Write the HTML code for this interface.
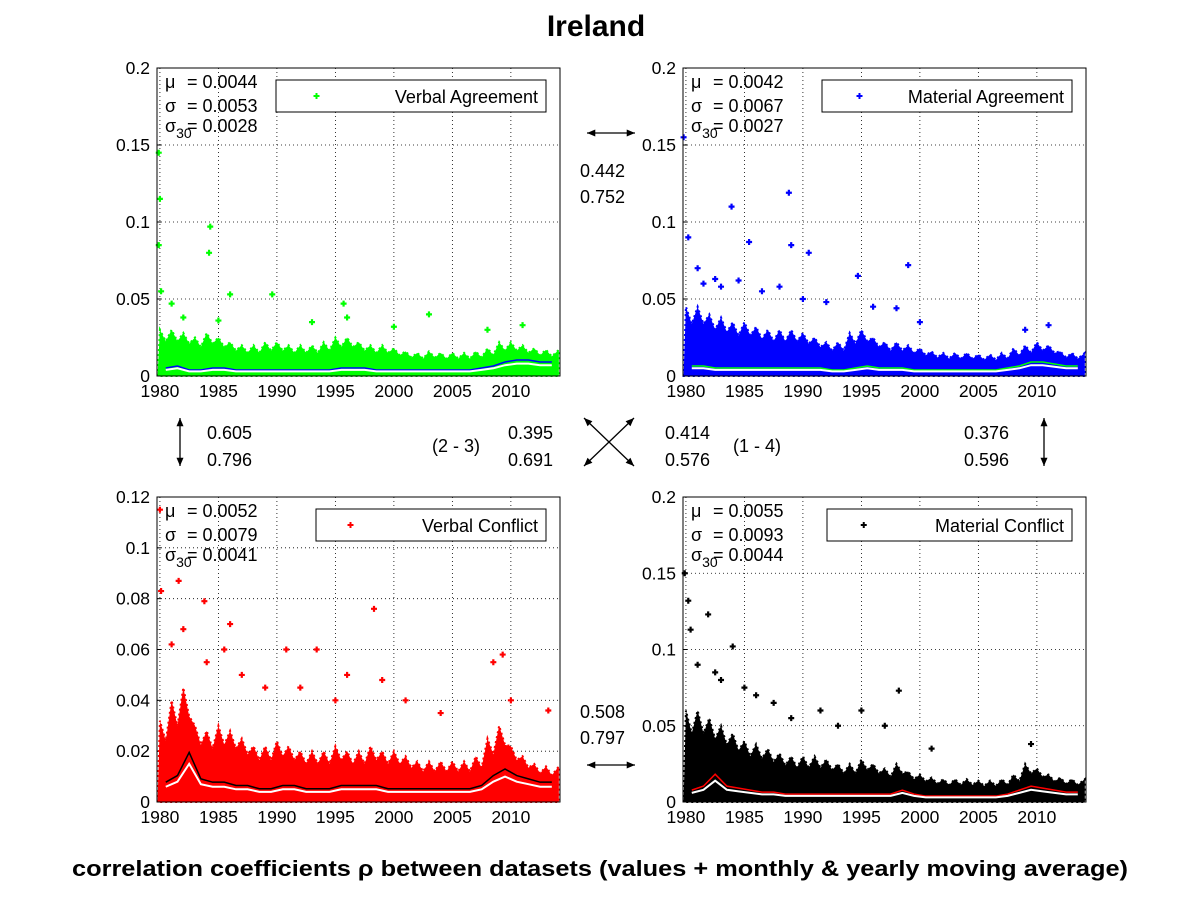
<!DOCTYPE html>
<html><head><meta charset="utf-8"><style>
body{margin:0;background:#fff;}
svg{font-family:"Liberation Sans",Arial,sans-serif;}
</style></head><body>
<svg id="c" width="1201" height="901" xmlns="http://www.w3.org/2000/svg">
<rect width="1201" height="901" fill="#fff"/>
<text x="596" y="36" font-size="30" font-weight="bold" text-anchor="middle">Ireland</text>
<text x="72" y="876" font-size="22" font-weight="bold" textLength="1056" lengthAdjust="spacingAndGlyphs">correlation coefficients ρ between datasets (values + monthly &amp; yearly moving average)</text>
</svg>
<script>
const years=[1980,1981,1982,1983,1984,1985,1986,1987,1988,1989,1990,1991,1992,1993,1994,1995,1996,1997,1998,1999,2000,2001,2002,2003,2004,2005,2006,2007,2008,2009,2010,2011,2012,2013];
const vaBand=[0.03,0.03,0.028,0.025,0.028,0.025,0.022,0.02,0.02,0.022,0.022,0.02,0.02,0.02,0.022,0.025,0.025,0.022,0.02,0.02,0.018,0.016,0.015,0.016,0.015,0.015,0.015,0.016,0.018,0.022,0.022,0.02,0.018,0.017];
const vaMean=[0.004,0.005,0.003,0.003,0.004,0.004,0.003,0.003,0.003,0.003,0.003,0.003,0.003,0.003,0.003,0.004,0.004,0.004,0.003,0.003,0.003,0.003,0.003,0.003,0.003,0.003,0.003,0.004,0.005,0.007,0.008,0.008,0.007,0.007];
const vaOut=[[1979.9,0.145],[1980,0.115],[1979.9,0.085],[1980.1,0.055],[1984.3,0.097],[1984.2,0.08],[1986,0.053],[1989.6,0.053],[1981,0.047],[1995.7,0.047],[2003,0.04],[2011,0.033],[1982,0.038],[1985,0.036],[1993,0.035],[1996,0.038],[2000,0.032],[2008,0.03]];
const maBand=[0.045,0.045,0.04,0.038,0.035,0.035,0.032,0.03,0.03,0.03,0.028,0.025,0.022,0.022,0.028,0.03,0.025,0.022,0.022,0.02,0.018,0.016,0.015,0.015,0.015,0.014,0.014,0.015,0.018,0.02,0.022,0.02,0.016,0.015];
const maMean=[0.005,0.005,0.004,0.004,0.004,0.004,0.004,0.004,0.004,0.004,0.004,0.004,0.003,0.003,0.004,0.005,0.004,0.004,0.004,0.003,0.003,0.003,0.003,0.003,0.003,0.003,0.003,0.004,0.005,0.007,0.007,0.006,0.005,0.005];
const maOut=[[1979.8,0.155],[1980.2,0.09],[1988.8,0.119],[1989,0.085],[1983.9,0.11],[1981,0.07],[1985.4,0.087],[1990.5,0.08],[1999,0.072],[1994.7,0.065],[1982.5,0.063],[2011,0.033],[1981.5,0.06],[1983,0.058],[1984.5,0.062],[1986.5,0.055],[1988,0.058],[1990,0.05],[1992,0.048],[1996,0.045],[1998,0.044],[2000,0.035],[2009,0.03]];
const vcBand=[0.032,0.04,0.045,0.03,0.028,0.03,0.028,0.025,0.022,0.022,0.024,0.022,0.02,0.02,0.02,0.022,0.02,0.02,0.022,0.02,0.02,0.018,0.016,0.016,0.016,0.016,0.016,0.018,0.025,0.03,0.022,0.018,0.015,0.014];
const vcMean=[0.006,0.008,0.015,0.007,0.006,0.006,0.005,0.005,0.004,0.004,0.005,0.005,0.004,0.004,0.004,0.005,0.005,0.005,0.005,0.004,0.004,0.004,0.004,0.004,0.004,0.004,0.004,0.005,0.008,0.01,0.008,0.007,0.006,0.006];
const vcOut=[[1980,0.115],[1981.6,0.087],[1983.8,0.079],[1980.1,0.083],[1986,0.07],[1998.3,0.076],[1990.8,0.06],[2009.3,0.058],[2008.5,0.055],[1993.4,0.06],[1996,0.05],[2013.2,0.036],[1982,0.068],[1981,0.062],[1984,0.055],[1985.5,0.06],[1987,0.05],[1989,0.045],[1992,0.045],[1995,0.04],[1999,0.048],[2001,0.04],[2004,0.035],[2010,0.04]];
const mcBand=[0.06,0.06,0.055,0.05,0.045,0.04,0.038,0.035,0.032,0.03,0.03,0.03,0.028,0.025,0.025,0.028,0.025,0.022,0.025,0.02,0.018,0.016,0.015,0.015,0.015,0.014,0.014,0.015,0.018,0.025,0.022,0.018,0.016,0.015];
const mcMean=[0.006,0.008,0.014,0.008,0.007,0.006,0.005,0.005,0.004,0.004,0.004,0.004,0.004,0.004,0.004,0.004,0.004,0.004,0.006,0.004,0.003,0.003,0.003,0.003,0.003,0.003,0.003,0.004,0.006,0.008,0.007,0.006,0.005,0.005];
const mcOut=[[1979.9,0.15],[1980.2,0.132],[1981.9,0.123],[1984,0.102],[1980.4,0.113],[1998.2,0.073],[1995,0.06],[1991.5,0.06],[2009.5,0.038],[1981,0.09],[1982.5,0.085],[1983,0.08],[1985,0.075],[1986,0.07],[1987.5,0.065],[1989,0.055],[1993,0.05],[1997,0.05],[2001,0.035]];
const yTicksA=[0,0.05,0.1,0.15,0.2];
const yTicksC=[0,0.02,0.04,0.06,0.08,0.1,0.12];
const xTicks=[1980,1985,1990,1995,2000,2005,2010];

const NS="http://www.w3.org/2000/svg",svg=document.getElementById('c');
function mk(t,a,p){const e=document.createElementNS(NS,t);for(const k in a)e.setAttribute(k,a[k]);(p||svg).appendChild(e);return e;}
function panel(name,L,T,R,B,ymax,yt,band,mean,out,col,mcol,legend,stats){
  const g=mk('g',{});
  
  
  const x=v=>L+(v-1979.75)/(2014.2-1979.75)*(R-L);
  const y=v=>B-v/ymax*(B-T);
  xTicks.forEach(t=>{mk('line',{x1:x(t),x2:x(t),y1:T,y2:B,stroke:'#000','stroke-dasharray':'1,3','stroke-width':0.8},g);
    mk('line',{x1:x(t),x2:x(t),y1:B,y2:B-4,stroke:'#000'},g);
    const tx=mk('text',{x:x(t),y:B+21,'font-size':17.5,'text-anchor':'middle'},g);tx.textContent=t;});
  yt.forEach(t=>{mk('line',{x1:L,x2:R,y1:y(t),y2:y(t),stroke:'#000','stroke-dasharray':'1,3','stroke-width':0.8},g);
    mk('line',{x1:L,x2:L+4,y1:y(t),y2:y(t),stroke:'#000'},g);
    const tx=mk('text',{x:L-7,y:y(t)+6,'font-size':17.5,'text-anchor':'end'},g);tx.textContent=t;});
  let d='M'+x(1979.8)+','+y(0);
  band.forEach((v,i)=>{d+=' L'+x(years[i])+','+y(v)+' L'+x(years[i]+0.5)+','+y(v*0.75);});
  d+=' L'+x(2014.1)+','+y(band[band.length-1])+' L'+x(2014.1)+','+y(0)+'Z';
  const bp=mk('path',{d:d,fill:col,stroke:col,'stroke-width':2,'stroke-dasharray':'2,3'},g);
  
  
  out.forEach(p=>{const c=mk('path',{d:`M${x(p[0])-3},${y(p[1])}h6M${x(p[0])},${y(p[1])-3}v6`,stroke:col,'stroke-width':2.2},g);
    
    });
  const pm=mean.map((v,i)=>x(years[i]+0.5)+','+y(v*1.3)).join(' ');
  mk('polyline',{points:pm,fill:'none',stroke:mcol,'stroke-width':1.5},g);
  const pw=mean.map((v,i)=>x(years[i]+0.5)+','+y(v)).join(' ');
  const wl=mk('polyline',{points:pw,fill:'none',stroke:'#fff','stroke-width':2},g);
  
  
  mk('rect',{x:L,y:T,width:R-L,height:B-T,fill:'none',stroke:'#000'},g);
  const lw=legend[1];const lx=R-14-lw;
  const lg=mk('g',{},g);
  
  
  mk('rect',{x:lx,y:T+12,width:lw,height:32,fill:'#fff',stroke:'#000'},lg);
  mk('path',{d:`M${lx+lw*0.15-3},${T+28}h6M${lx+lw*0.15},${T+25}v6`,stroke:col,'stroke-width':2},lg);
  const lt=mk('text',{x:lx+lw-8,y:T+35,'font-size':18,'text-anchor':'end'},lg);lt.textContent=legend[0];
  const sy=[T+16,T+40,T+62];
  const sx=L+8;
  [['μ',stats[0]],['σ',stats[1]]].forEach((s,i)=>{const t=mk('text',{x:sx,y:sy[i]+4,'font-size':18},g);t.textContent=s[0];
    const t2=mk('text',{x:sx+22,y:sy[i]+4,'font-size':18},g);t2.textContent='= '+s[1];});
  const t3=mk('text',{x:sx,y:sy[2]+2,'font-size':18},g);t3.innerHTML='σ<tspan font-size="14" dy="6">30</tspan>';
  const t4=mk('text',{x:sx+22,y:sy[2]+2,'font-size':18},g);t4.textContent='= '+stats[2];
}
panel('verbal-agreement',157,68,560,376,0.2,yTicksA,vaBand,vaMean,vaOut,'#00ff00','#0000ff',['Verbal Agreement',270],['0.0044','0.0053','0.0028']);
panel('material-agreement',683,68,1086,376,0.2,yTicksA,maBand,maMean,maOut,'#0000ff','#00ff00',['Material Agreement',250],['0.0042','0.0067','0.0027']);
panel('verbal-conflict',157,497,560,802,0.12,yTicksC,vcBand,vcMean,vcOut,'#ff0000','#000000',['Verbal Conflict',230],['0.0052','0.0079','0.0041']);
panel('material-conflict',683,497,1086,802,0.2,yTicksA,mcBand,mcMean,mcOut,'#000000','#ff0000',['Material Conflict',245],['0.0055','0.0093','0.0044']);
function txt(x,y,s,n){const t=mk('text',{x:x,y:y,'font-size':18});t.textContent=s;}
function arrow(x1,y1,x2,y2,n){const a=Math.atan2(y2-y1,x2-x1),h=9;const g=mk('g',{});
  mk('line',{x1:x1,y1:y1,x2:x2,y2:y2,stroke:'#000','stroke-width':1.3},g);
  [[x1,y1,a+Math.PI],[x2,y2,a]].forEach(p=>{mk('polygon',{points:`${p[0]},${p[1]} ${p[0]-h*Math.cos(p[2]-0.4)},${p[1]-h*Math.sin(p[2]-0.4)} ${p[0]-h*Math.cos(p[2]+0.4)},${p[1]-h*Math.sin(p[2]+0.4)}`,fill:'#000'},g);});}
arrow(587,133,635,133,'arrow-top');txt(580,177,'0.442','corr-top-1');txt(580,203,'0.752','corr-top-2');
arrow(587,765,635,765,'arrow-bottom');txt(580,718,'0.508','corr-bottom-1');txt(580,744,'0.797','corr-bottom-2');
arrow(180,418,180,466,'arrow-left');txt(207,439,'0.605','corr-left-1');txt(207,466,'0.796','corr-left-2');
arrow(1044,418,1044,466,'arrow-right');txt(964,439,'0.376','corr-right-1');txt(964,466,'0.596','corr-right-2');
arrow(584,418,634,466,'arrow-diag-1');arrow(634,418,584,466,'arrow-diag-2');
txt(432,452,'(2 - 3)','label-2-3');txt(508,439,'0.395','corr-23-1');txt(508,466,'0.691','corr-23-2');
txt(665,439,'0.414','corr-14-1');txt(665,466,'0.576','corr-14-2');txt(733,452,'(1 - 4)','label-1-4');
</script>
</body></html>
